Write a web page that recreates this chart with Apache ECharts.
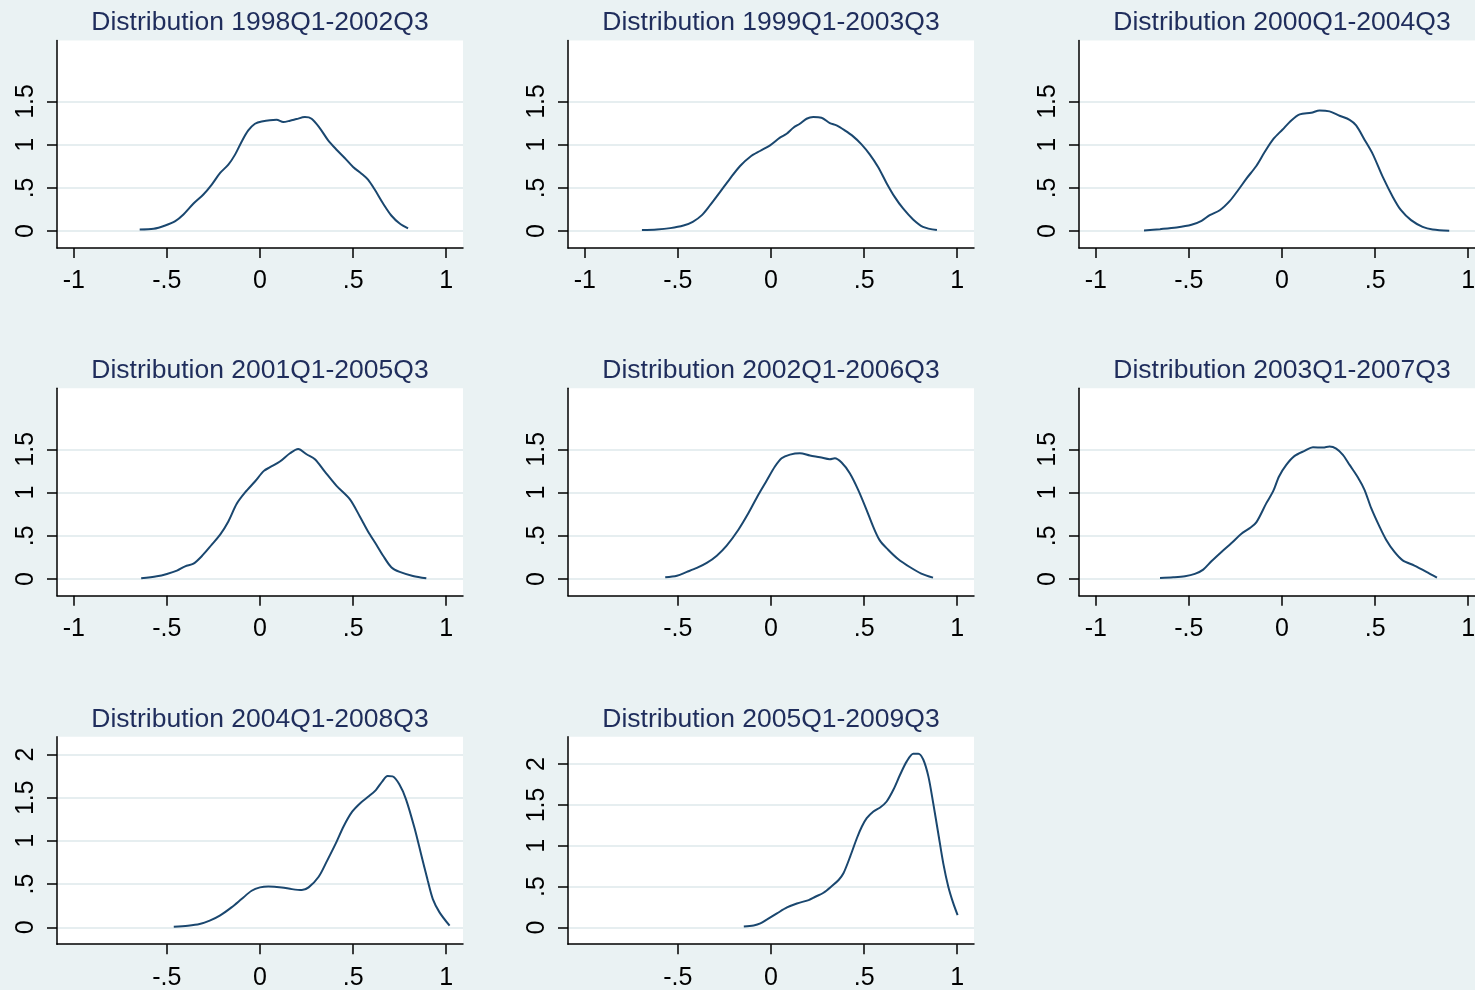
<!DOCTYPE html>
<html>
<head>
<meta charset="utf-8">
<script src="https://cdn.jsdelivr.net/npm/echarts@6/dist/echarts.min.js"></script>
<style>
html,body{margin:0;padding:0;background:#eaf2f3;}
#c{width:1475px;height:990px;}
</style>
</head>
<body>
<div id="c"></div>
<script>
// ---- titles ----
const titles = [
  'Distribution 1998Q1-2002Q3', 'Distribution 1999Q1-2003Q3', 'Distribution 2000Q1-2004Q3',
  'Distribution 2001Q1-2005Q3', 'Distribution 2002Q1-2006Q3', 'Distribution 2003Q1-2007Q3',
  'Distribution 2004Q1-2008Q3', 'Distribution 2005Q1-2009Q3'
];

// ---- tick labels ----
const xTicksFull = [-1, -0.5, 0, 0.5, 1];
const xTicksShort = [-0.5, 0, 0.5, 1];
const yTicks15 = [0, 0.5, 1, 1.5];
const yTicks2 = [0, 0.5, 1, 1.5, 2];

// ---- density curves (x, density) ----
const p1x = [-0.646,-0.571,-0.509,-0.455,-0.411,-0.357,-0.304,-0.259,-0.214,-0.170,-0.134,-0.098,-0.063,-0.027,0.009,0.089,0.125,0.161,0.196,0.241,0.277,0.321,0.366,0.411,0.455,0.500,0.545,0.580,0.616,0.661,0.705,0.750,0.795];
const p1y = [0.019,0.027,0.065,0.115,0.192,0.319,0.423,0.538,0.673,0.769,0.885,1.038,1.165,1.242,1.269,1.288,1.262,1.277,1.296,1.319,1.300,1.192,1.050,0.942,0.846,0.742,0.665,0.596,0.481,0.319,0.181,0.088,0.031];

const p2x = [-0.693,-0.613,-0.541,-0.470,-0.420,-0.371,-0.327,-0.273,-0.220,-0.166,-0.113,-0.059,-0.005,0.048,0.084,0.120,0.155,0.191,0.227,0.271,0.316,0.352,0.396,0.441,0.486,0.530,0.575,0.620,0.664,0.709,0.763,0.816,0.891];
const p2y = [0.012,0.019,0.035,0.065,0.108,0.185,0.300,0.454,0.608,0.754,0.858,0.927,0.992,1.081,1.127,1.196,1.242,1.300,1.319,1.312,1.250,1.223,1.165,1.096,1.004,0.888,0.742,0.558,0.396,0.262,0.135,0.050,0.012];

const p3x = [-0.741,-0.655,-0.566,-0.486,-0.432,-0.388,-0.334,-0.280,-0.236,-0.191,-0.138,-0.093,-0.045,0.002,0.050,0.095,0.157,0.202,0.255,0.309,0.363,0.398,0.443,0.488,0.541,0.595,0.639,0.693,0.755,0.809,0.898];
const p3y = [0.008,0.023,0.042,0.073,0.119,0.185,0.242,0.350,0.473,0.608,0.754,0.915,1.069,1.173,1.281,1.350,1.369,1.396,1.385,1.335,1.288,1.223,1.058,0.888,0.627,0.396,0.242,0.127,0.050,0.019,0.004];

const p4x = [-0.638,-0.554,-0.500,-0.446,-0.402,-0.357,-0.313,-0.259,-0.214,-0.170,-0.125,-0.080,-0.027,0.021,0.054,0.107,0.161,0.205,0.250,0.295,0.348,0.411,0.482,0.536,0.580,0.625,0.661,0.705,0.750,0.821,0.893];
const p4y = [0.008,0.031,0.058,0.096,0.146,0.177,0.262,0.396,0.512,0.665,0.869,1.000,1.127,1.250,1.292,1.358,1.454,1.504,1.442,1.385,1.242,1.077,0.923,0.723,0.550,0.396,0.269,0.135,0.081,0.035,0.008];

const p5x = [-0.568,-0.505,-0.452,-0.398,-0.345,-0.291,-0.238,-0.175,-0.121,-0.068,-0.023,0.021,0.057,0.102,0.155,0.209,0.263,0.316,0.343,0.379,0.423,0.468,0.513,0.548,0.584,0.629,0.682,0.745,0.807,0.870];
const p5y = [0.019,0.038,0.081,0.127,0.185,0.269,0.385,0.569,0.762,0.973,1.138,1.300,1.396,1.438,1.454,1.427,1.408,1.385,1.396,1.346,1.223,1.031,0.800,0.608,0.446,0.338,0.231,0.138,0.062,0.015];

const p6x = [-0.655,-0.584,-0.521,-0.468,-0.423,-0.379,-0.325,-0.271,-0.218,-0.173,-0.138,-0.084,-0.048,-0.016,0.023,0.068,0.121,0.166,0.220,0.255,0.291,0.327,0.363,0.407,0.443,0.479,0.523,0.559,0.604,0.648,0.711,0.773,0.832];
const p6y = [0.012,0.019,0.031,0.058,0.108,0.204,0.312,0.415,0.523,0.588,0.654,0.877,1.012,1.185,1.319,1.423,1.481,1.523,1.519,1.531,1.508,1.435,1.319,1.177,1.031,0.819,0.608,0.454,0.312,0.215,0.154,0.085,0.015];

const p7x = [-0.463,-0.387,-0.324,-0.270,-0.216,-0.153,-0.099,-0.045,0.000,0.045,0.117,0.171,0.225,0.261,0.315,0.360,0.405,0.450,0.495,0.541,0.586,0.622,0.658,0.685,0.712,0.748,0.784,0.829,0.865,0.901,0.928,0.964,1.018];
const p7y = [0.008,0.019,0.038,0.077,0.135,0.231,0.327,0.423,0.462,0.473,0.462,0.442,0.431,0.462,0.585,0.769,0.962,1.173,1.338,1.442,1.519,1.588,1.692,1.750,1.746,1.654,1.481,1.154,0.846,0.538,0.327,0.173,0.019];

const p8x = [-0.146,-0.093,-0.057,-0.021,0.032,0.086,0.139,0.202,0.238,0.282,0.327,0.363,0.389,0.425,0.461,0.488,0.514,0.550,0.586,0.621,0.657,0.693,0.729,0.764,0.791,0.818,0.845,0.871,0.898,0.925,0.952,0.979,1.002];
const p8y = [0.012,0.025,0.049,0.098,0.172,0.245,0.294,0.335,0.376,0.425,0.507,0.581,0.663,0.867,1.092,1.235,1.337,1.419,1.468,1.542,1.685,1.869,2.033,2.127,2.127,2.053,1.849,1.521,1.153,0.785,0.499,0.294,0.151];

const panelsX = [p1x, p2x, p3x, p4x, p5x, p6x, p7x, p8x];
const panelsY = [p1y, p2y, p3y, p4y, p5y, p6y, p7y, p8y];
const panelXTicks = [xTicksFull, xTicksFull, xTicksFull, xTicksFull, xTicksShort, xTicksFull, xTicksShort, xTicksShort];
const panelYTicks = [yTicks15, yTicks15, yTicks15, yTicks15, yTicks15, yTicks15, yTicks2, yTicks2];

// ---- layout ----
const colLeft = [57, 568, 1079];
const rowTop = [40.5, 388.3, 736.7];
const plotW = 406, plotH = 207.5;
const yRange = [[-0.195, 2.205],[-0.195, 2.205],[-0.195, 2.205],[-0.195, 2.205],[-0.195, 2.205],[-0.195, 2.205],[-0.195, 2.205],[-0.205, 2.335]];

const fmt = v => {
  if (v === 0) return '0';
  return String(v).replace(/^(-?)0\./, '$1.');
};

const FONT = 'Liberation Sans, Arial, Helvetica, sans-serif';
const grid = [], xAxis = [], yAxis = [], series = [], title = [];
for (let i = 0; i < 8; i++) {
  const r = Math.floor(i / 3), c = i % 3;
  const left = colLeft[c], top = rowTop[r];
  grid.push({left: left, top: top, width: plotW, height: plotH, show: true,
    backgroundColor: '#ffffff', borderWidth: 0, containLabel: false, outerBoundsMode: 'none'});
  title.push({text: titles[i], left: left + plotW / 2, top: top - 31, textAlign: 'center',
    padding: 0,
    textStyle: {fontFamily: FONT, fontSize: 26.5, fontWeight: 'normal', color: '#1f2d5c'}});
  xAxis.push({type: 'value', gridIndex: i, min: -1.09, max: 1.09,
    axisLine: {show: true, onZero: false, lineStyle: {color: '#000', width: 1.5}},
    axisTick: {show: true, length: 10, customValues: panelXTicks[i], lineStyle: {color: '#000', width: 1.5}},
    axisLabel: {customValues: panelXTicks[i], formatter: fmt, margin: 21, color: '#000',
      fontFamily: FONT, fontSize: 25},
    splitLine: {show: false}});
  yAxis.push({type: 'value', gridIndex: i, min: yRange[i][0], max: yRange[i][1],
    axisLine: {show: true, onZero: false, lineStyle: {color: '#000', width: 1.5}},
    axisTick: {show: true, length: 10, customValues: panelYTicks[i], lineStyle: {color: '#000', width: 1.5}},
    axisLabel: {customValues: panelYTicks[i], formatter: fmt, rotate: 90, margin: 18, color: '#000',
      fontFamily: FONT, fontSize: 25},
    splitLine: {show: true, lineStyle: {color: '#e6eef0', width: 2}}});
  series.push({type: 'line', xAxisIndex: i, yAxisIndex: i, showSymbol: false, smooth: 0.3,
    lineStyle: {color: '#1a476f', width: 2}, silent: true,
    data: panelsX[i].map((x, k) => [x, panelsY[i][k]])});
}

const chart = echarts.init(document.getElementById('c'));
chart.setOption({
  backgroundColor: '#eaf2f3',
  animation: false,
  title: title, grid: grid, xAxis: xAxis, yAxis: yAxis, series: series
});
</script>
</body>
</html>
